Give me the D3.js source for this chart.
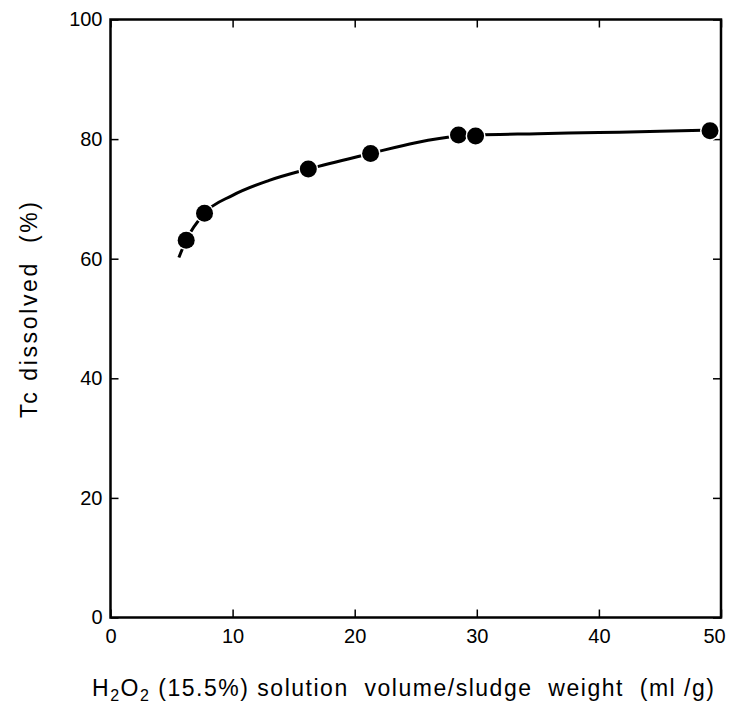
<!DOCTYPE html>
<html><head><meta charset="utf-8">
<script src="https://cdn.jsdelivr.net/npm/d3@7"></script>
<style>body{margin:0;background:#fff}</style>
</head><body>
<svg id="c" width="730" height="710"></svg>
<script>
const pointsX = [6.2, 7.7, 16.2, 21.3, 28.5, 29.9, 49.1];
const pointsY = [63.1, 67.6, 75.0, 77.6, 80.7, 80.5, 81.4];
const curveX = [5.6, 6.2, 7.7, 10, 13, 16.2, 21.3, 25, 28.5, 30, 35, 40, 45, 48.6];
const curveY = [60.2, 63.1, 67.6, 70.6, 73.1, 75.0, 77.6, 79.4, 80.5, 80.7, 80.9, 81.1, 81.3, 81.5];
const xTicks = [0, 10, 20, 30, 40, 50];
const yTicks = [0, 20, 40, 60, 80, 100];

const svg = d3.select("#c");
const x = d3.scaleLinear().domain([0, 50]).range([110.5, 721]);
const y = d3.scaleLinear().domain([0, 100]).range([617.5, 19.5]);
const font = "'Liberation Sans',Arial,sans-serif";

// frame
svg.append("rect").attr("x", x(0)).attr("y", y(100))
  .attr("width", x(50) - x(0)).attr("height", y(0) - y(100))
  .attr("fill", "none").attr("stroke", "#000").attr("stroke-width", 2.5);

// axes (ticks inward)
const gB = svg.append("g").attr("transform", `translate(0,${y(0)})`)
  .call(d3.axisBottom(x).tickValues(xTicks).tickSize(-8).tickPadding(11).tickFormat(d3.format("d")));
const gT = svg.append("g").attr("transform", `translate(0,${y(100)})`)
  .call(d3.axisTop(x).tickValues(xTicks).tickSize(-8).tickFormat(""));
const gL = svg.append("g").attr("transform", `translate(${x(0)},0)`)
  .call(d3.axisLeft(y).tickValues(yTicks).tickSize(-8).tickPadding(8).tickFormat(d3.format("d")));
const gR = svg.append("g").attr("transform", `translate(${x(50)},0)`)
  .call(d3.axisRight(y).tickValues(yTicks).tickSize(-8).tickFormat(""));
[gB, gT, gL, gR].forEach(g => {
  g.select(".domain").remove();
  g.selectAll(".tick line").attr("stroke", "#000").attr("stroke-width", 1.5);
  g.selectAll("text").attr("font-family", font).attr("font-size", 20).attr("fill", "#000");
});
gB.selectAll(".tick").filter(d => d === 50).select("text").attr("dx", -7);

// curve
const line = d3.line().x(d => x(d[0])).y(d => y(d[1])).curve(d3.curveMonotoneX);
svg.append("path").datum(curveX.map((v, i) => [v, curveY[i]]))
  .attr("d", line).attr("fill", "none").attr("stroke", "#000").attr("stroke-width", 3);

// points with white halo
svg.selectAll("circle.p").data(pointsX.map((v, i) => [v, pointsY[i]])).enter()
  .append("circle").attr("class", "p")
  .attr("cx", d => x(d[0])).attr("cy", d => y(d[1])).attr("r", 8.5)
  .attr("fill", "#000").attr("stroke", "#fff").attr("stroke-width", 3).attr("paint-order", "stroke");

// y title
svg.append("text").attr("transform", "translate(37,310) rotate(-90)")
  .attr("text-anchor", "middle").attr("font-family", font).attr("font-size", 23)
  .attr("xml:space", "preserve").attr("textLength", 216).attr("lengthAdjust", "spacing")
  .text("Tc dissolved  (%)");

// x title
const xt = svg.append("text").attr("x", 92).attr("y", 696)
  .attr("font-family", font).attr("font-size", 23).attr("xml:space", "preserve")
  .attr("textLength", 622).attr("lengthAdjust", "spacing");
xt.append("tspan").text("H");
xt.append("tspan").attr("dy", 5).attr("font-size", 16).text("2");
xt.append("tspan").attr("dy", -5).text("O");
xt.append("tspan").attr("dy", 5).attr("font-size", 16).text("2");
xt.append("tspan").attr("dy", -5).text(" (15.5%) solution  volume/sludge  weight  (ml /g)");
</script>
</body></html>
